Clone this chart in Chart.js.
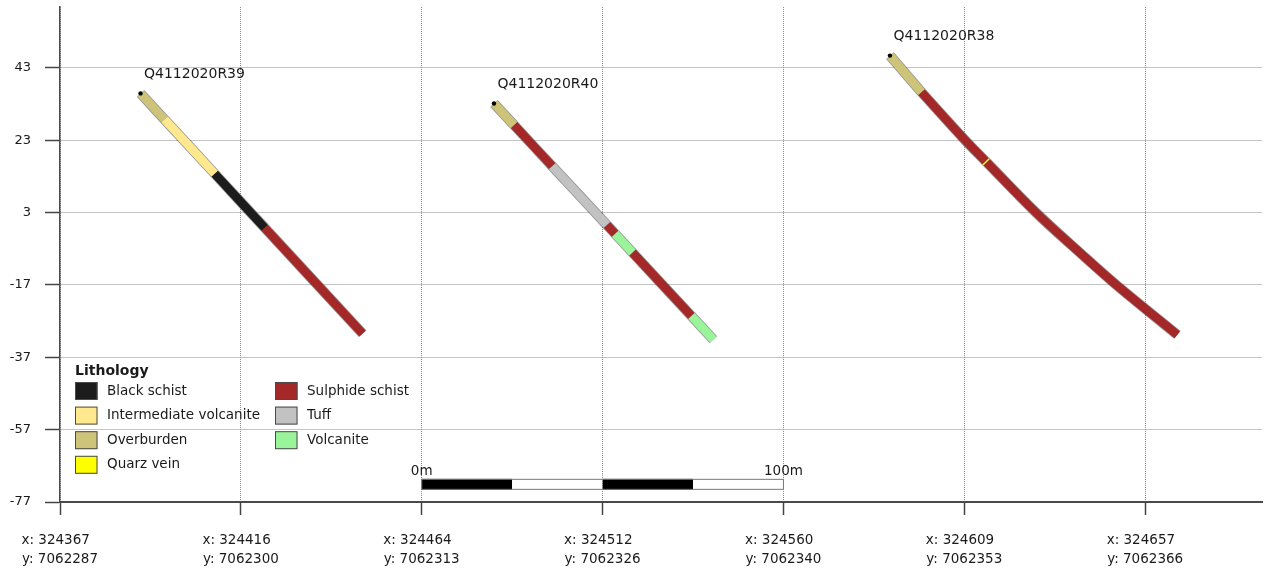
<!DOCTYPE html>
<html>
<head>
<meta charset="utf-8">
<title>Drill hole section</title>
<script src="https://cdn.jsdelivr.net/npm/chart.js@4.4.1/dist/chart.umd.min.js"></script>
<style>
  html, body { margin: 0; padding: 0; background: #ffffff; }
  #wrap { width: 1266px; height: 573px; position: relative; }
</style>
</head>
<body>
<div id="wrap"><canvas id="section"></canvas></div>
<script>
// Section axis: distance along the section line (m) and the map coordinates at each tick
const sectionTicks = [0, 50, 100, 150, 200, 250, 300];
const tickEastings = ['324367', '324416', '324464', '324512', '324560', '324609', '324657'];
const tickNorthings = ['7062287', '7062300', '7062313', '7062326', '7062340', '7062353', '7062366'];
const elevationTicks = [43, 23, 3, -17, -37, -57, -77];

// Lithology classes
const lithNames = ['Black schist', 'Intermediate volcanite', 'Overburden', 'Quarz vein',
                   'Sulphide schist', 'Tuff', 'Volcanite'];
const lithColors = ['#1c1c1c', '#ffe88e', '#cdc479', '#ffff00', '#a52828', '#c2c2c2', '#9af59a'];

// Drill holes: trace vertices (section distance m, elevation m) and logged intervals
const holeNames = ['Q4112020R39', 'Q4112020R40', 'Q4112020R38'];

const r39X = [22.26, 28.90, 42.75, 56.59, 83.65];
const r39Y = [35.92, 28.73, 13.76, -1.23, -30.47];
const r39From = [0, 1, 2, 3];
const r39To = [1, 2, 3, 4];
const r39Lith = ['Overburden', 'Intermediate volcanite', 'Black schist', 'Sulphide schist'];

const r40X = [119.97, 125.51, 136.07, 151.19, 153.45, 158.25, 174.55, 180.63];
const r40Y = [33.15, 27.18, 15.81, -0.43, -2.86, -8.04, -25.58, -32.13];
const r40From = [0, 1, 2, 3, 4, 5, 6];
const r40To = [1, 2, 3, 4, 5, 6, 7];
const r40Lith = ['Overburden', 'Sulphide schist', 'Tuff', 'Sulphide schist', 'Volcanite',
                 'Sulphide schist', 'Volcanite'];

const r38X = [229.45, 238.14, 250.22, 255.87, 256.15, 269.80, 282.21, 291.92, 308.88];
const r38Y = [46.37, 36.28, 23.00, 17.19, 16.91, 3.00, -8.34, -16.92, -30.80];
const r38From = [0, 1, 3, 4];
const r38To = [1, 3, 4, 8];
const r38Lith = ['Overburden', 'Sulphide schist', 'Quarz vein', 'Sulphide schist'];

// Scale bar (section metres)
const scaleBarStart = 100;
const scaleBarEnd = 200;
const scaleBarParts = 4;
const scaleBarTop = -70.6;
const scaleBarLabels = ['0m', '100m'];

const holes = [
  { name: holeNames[0], x: r39X, y: r39Y, from: r39From, to: r39To, lith: r39Lith },
  { name: holeNames[1], x: r40X, y: r40Y, from: r40From, to: r40To, lith: r40Lith },
  { name: holeNames[2], x: r38X, y: r38Y, from: r38From, to: r38To, lith: r38Lith }
];

const FONT = 'DejaVu Sans';
const TEXT = '#1a1a1a';

// One outlined line segment per logged interval (curved traces are smoothed)
const datasets = [];
holes.forEach(h => {
  h.from.forEach((f, i) => {
    const pts = [];
    for (let k = f; k <= h.to[i]; k++) pts.push({ x: h.x[k], y: h.y[k] });
    const col = lithColors[lithNames.indexOf(h.lith[i])];
    datasets.push({
      label: h.name + ' outline', data: pts, showLine: true, pointRadius: 0, tension: 0.35,
      borderColor: 'rgba(45,45,45,0.5)', borderWidth: 10.2, borderCapStyle: 'butt',
      borderJoinStyle: 'round', order: 3
    });
    datasets.push({
      label: h.name + ' ' + h.lith[i], data: pts, showLine: true, pointRadius: 0, tension: 0.35,
      borderColor: col, borderWidth: 8.6, borderCapStyle: 'butt',
      borderJoinStyle: 'round', order: 2
    });
  });
});
// Collars
datasets.push({
  label: 'collars', data: holes.map(h => ({ x: h.x[0], y: h.y[0] })),
  showLine: false, pointRadius: 2.2, pointBackgroundColor: '#000', pointBorderWidth: 0, order: 0
});

// Hole names, lithology legend and scale bar
const sectionDecor = {
  id: 'sectionDecor',
  afterDatasetsDraw(chart) {
    const ctx = chart.ctx;
    const xs = chart.scales.x, ys = chart.scales.y;
    const area = chart.chartArea;
    ctx.save();

    // hole names above the collars
    const collarMeta = chart.getDatasetMeta(datasets.length - 1);
    ctx.font = '14px "' + FONT + '"';
    ctx.fillStyle = TEXT;
    ctx.textAlign = 'left';
    ctx.textBaseline = 'middle';
    collarMeta.data.forEach((pt, i) => {
      ctx.fillText(holeNames[i], pt.x + 3.5, pt.y - 19);
    });

    // legend
    const lx = area.left + 15;
    const titleY = area.bottom - 131;
    ctx.font = 'bold 14px "' + FONT + '"';
    ctx.fillText('Lithology', lx, titleY);
    ctx.font = '13.5px "' + FONT + '"';
    const rows = 4, rowGap = 24.6, colGap = 200;
    lithNames.forEach((name, i) => {
      const col = Math.floor(i / rows), row = i % rows;
      const sx = lx + col * colGap;
      const cy = titleY + 20 + row * rowGap;
      ctx.fillStyle = lithColors[i];
      ctx.fillRect(sx, cy - 9, 22.5, 18);
      ctx.strokeStyle = '#4a4a4a';
      ctx.lineWidth = 1;
      ctx.strokeRect(sx + 0.5, cy - 8.5, 21.5, 17);
      ctx.fillStyle = TEXT;
      ctx.fillText(name, sx + 32, cy);
    });

    // scale bar
    const x0 = xs.getPixelForValue(scaleBarStart);
    const x1 = xs.getPixelForValue(scaleBarEnd);
    const yTop = ys.getPixelForValue(scaleBarTop);
    const h = 11;
    const w = (x1 - x0) / scaleBarParts;
    for (let i = 0; i < scaleBarParts; i++) {
      ctx.fillStyle = i % 2 === 0 ? '#000000' : '#ffffff';
      ctx.fillRect(x0 + i * w, yTop, w, h);
    }
    ctx.strokeStyle = '#7a7a7a';
    ctx.lineWidth = 1;
    ctx.strokeRect(x0, yTop + 0.5, x1 - x0, h - 1);
    ctx.fillStyle = TEXT;
    ctx.font = '13.5px "' + FONT + '"';
    ctx.textAlign = 'center';
    ctx.textBaseline = 'alphabetic';
    ctx.fillText(scaleBarLabels[0], x0, yTop - 4);
    ctx.fillText(scaleBarLabels[1], x1, yTop - 4);

    ctx.restore();
  }
};

new Chart(document.getElementById('section'), {
  type: 'scatter',
  data: { datasets },
  options: {
    responsive: true,
    maintainAspectRatio: false,
    animation: false,
    layout: { padding: { top: 7, right: 1, left: 0, bottom: 0 } },
    plugins: { legend: { display: false }, tooltip: { enabled: false } },
    scales: {
      x: {
        type: 'linear', min: 0, max: 332.3,
        afterBuildTicks: s => { s.ticks = sectionTicks.map(v => ({ value: v })); },
        afterFit: s => { s.height = 71; s.paddingLeft = 0; s.paddingRight = 0; },
        ticks: {
          autoSkip: false, maxRotation: 0, minRotation: 0, padding: 16, color: TEXT,
          font: { family: FONT, size: 13.5, lineHeight: 1.4 },
          callback: (v, i) => ['x: ' + tickEastings[i] + '  ', 'y: ' + tickNorthings[i]]
        },
        grid: { color: '#8a8a8a', lineWidth: 1, tickLength: 13, tickColor: '#444444', tickWidth: 1.5, tickBorderDash: [] },
        border: { display: true, color: '#4a4a4a', width: 2, dash: [1, 1] }
      },
      y: {
        type: 'linear', min: -77, max: 59.8,
        afterBuildTicks: s => { s.ticks = elevationTicks.map(v => ({ value: v })); },
        afterFit: s => { s.width = 60; s.paddingTop = 0; s.paddingBottom = 0; },
        ticks: { padding: 14, color: TEXT, font: { family: FONT, size: 13 } },
        grid: { color: '#8a8a8a', lineWidth: 1, tickLength: 15, tickColor: '#444444', tickWidth: 1.5, tickBorderDash: [] },
        border: { display: true, color: '#4a4a4a', width: 1.5, dash: [1, 1] }
      }
    }
  },
  plugins: [sectionDecor]
});
</script>
</body>
</html>
